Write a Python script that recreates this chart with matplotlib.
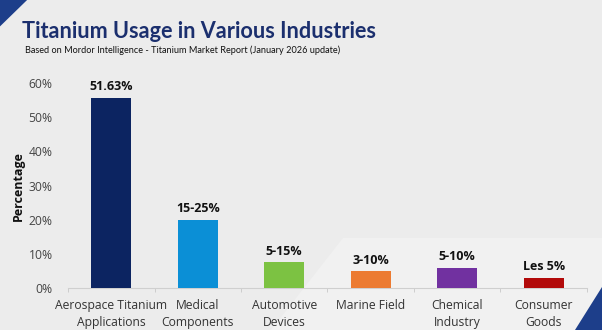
import matplotlib
matplotlib.use("Agg")
import matplotlib.pyplot as plt
from matplotlib.patches import Polygon
from matplotlib.ticker import PercentFormatter, FixedLocator

plt.rcParams['font.family'] = ['Open Sans', 'DejaVu Sans']

# data
categories = ["Aerospace Titanium\nApplications", "Medical\nComponents", "Automotive\nDevices",
              "Marine Field", "Chemical\nIndustry", "Consumer\nGoods"]
values = [55.7, 20.0, 7.5, 5.0, 6.0, 3.0]
bar_labels = ["51.63%", "15-25%", "5-15%", "3-10%", "5-10%", "Les 5%"]
colors = ["#0c2461", "#0b8fd6", "#7cc242", "#ec7b32", "#7131a0", "#b20a0a"]

fig = plt.figure(figsize=(6.02, 3.3), dpi=100)
fig.patch.set_facecolor("#ececec")

# slide background decorations
fig.patches.append(Polygon([(0.57, 0.28), (1, 0.28), (1, 0), (0.45, 0)], closed=True,
                           transform=fig.transFigure, facecolor="#f1f1f1", edgecolor="none", zorder=0))
fig.patches.append(Polygon([(0, 1), (0.045, 1), (0, 0.92)], closed=True,
                           transform=fig.transFigure, facecolor="#1d3e8a", edgecolor="none", zorder=0))
fig.patches.append(Polygon([(1, 0.13), (1, 0), (0.955, 0)], closed=True,
                           transform=fig.transFigure, facecolor="#1d3e8a", edgecolor="none", zorder=0))

ax = fig.add_axes([0.113, 0.127, 0.862, 0.621])
ax.set_zorder(2)
ax.set_facecolor("none")

x = range(len(categories))
bars = ax.bar(x, values, width=0.46, color=colors, zorder=3)
for b, lab in zip(bars, bar_labels):
    ax.text(b.get_x() + b.get_width() / 2, b.get_height() + 1.3, lab, ha="center", va="bottom",
            fontsize=9, fontweight="bold", color="#111111")

ax.set_xlim(-0.5, len(categories) - 0.5)
ax.set_ylim(0, 60)
ax.yaxis.set_major_locator(FixedLocator([0, 10, 20, 30, 40, 50, 60]))
ax.yaxis.set_major_formatter(PercentFormatter(decimals=0))
ax.set_xticks(list(x))
ax.set_xticklabels(categories, fontsize=8.7, color="#333333", linespacing=1.35)
ax.xaxis.set_minor_locator(FixedLocator([i + 0.5 for i in range(-1, len(categories))]))
ax.tick_params(axis="x", which="major", length=0, pad=8)
ax.tick_params(axis="x", which="minor", length=3, color="#c8c8c8")
ax.tick_params(axis="y", length=0, labelsize=8.7, labelcolor="#444444", pad=11)
for s in ["top", "right", "left"]:
    ax.spines[s].set_visible(False)
ax.spines["bottom"].set_color("#cfcfcf")
ax.set_ylabel("Percentage", fontsize=9, fontweight="bold", color="#111111", labelpad=3)

fig.text(0.037, 0.885, "Titanium Usage in Various Industries", fontsize=15.6, fontweight="bold",
         family=["Lato", "DejaVu Sans"], color="#1b2f6e", ha="left", va="baseline")
fig.text(0.042, 0.838, "Based on Mordor Intelligence - Titanium Market Report (January 2026 update)",
         fontsize=6.6, family=["Lato", "DejaVu Sans"], color="#111111", ha="left", va="baseline")

fig.savefig("out.png", dpi=100, facecolor=fig.get_facecolor())
